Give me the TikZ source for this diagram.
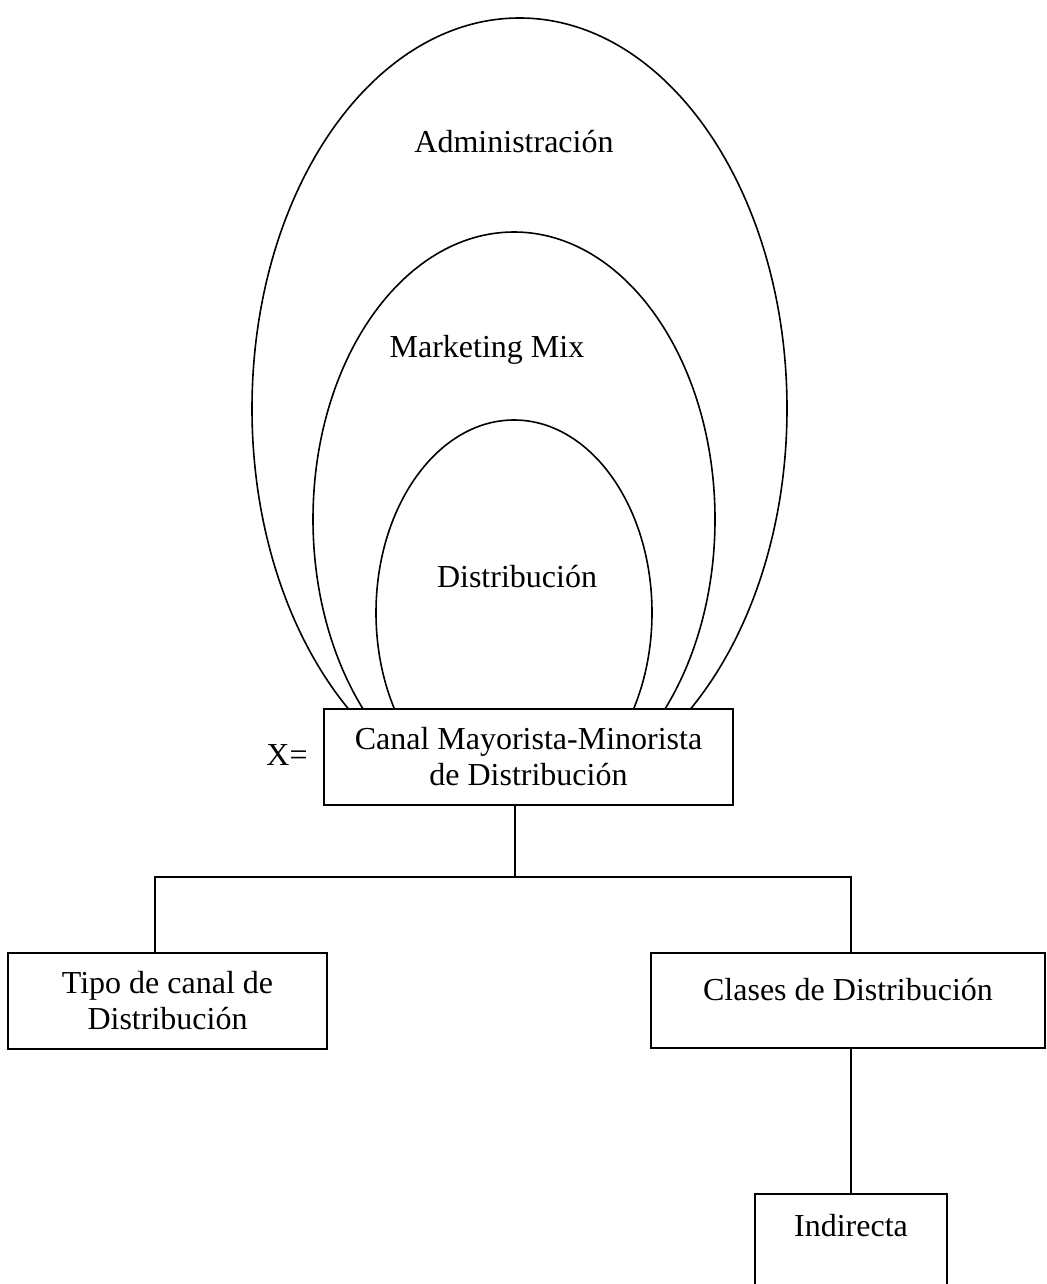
\documentclass[tikz,border=0pt]{standalone}
\usepackage{fontspec}
\setmainfont{Liberation Serif}
\begin{document}
\begin{tikzpicture}[x=1pt,y=-1pt,
  lw/.style={line width=1.6pt},
  box/.style={draw,lw,rectangle,align=center,inner sep=0pt},
  lbl/.style={inner sep=0pt,align=center},
  every node/.append style={font=\fontsize{32}{36}\selectfont}]
\useasboundingbox (0,0) rectangle (1046,1284);

% nested ellipses, cut off at the top edge of the central box
\begin{scope}
  \clip (0,0) rectangle (1046,709);
  \draw[lw] (519.5,408.6) ellipse [x radius=267.5, y radius=390.6];
  \draw[lw] (514,519.3) ellipse [x radius=201, y radius=287.3];
  \draw[lw] (514,612.7) ellipse [x radius=138, y radius=192.7];
\end{scope}

\node[lbl] (adm) at (514,142) {Administración};
\node[lbl] (mkt) at (487,350) {Marketing Mix};
\node[lbl] (dist) at (517,577) {Distribución};

% boxes
\node[box, minimum width=409pt, minimum height=96pt] (canal) at (528.5,757)
  {Canal Mayorista-Minorista\\de Distribución};
\node[lbl] (xeq) at (287,755) {X=};
\node[box, minimum width=319pt, minimum height=96pt] (tipo) at (167.5,1001)
  {Tipo de canal de\\Distribución};
\node[box, minimum width=394pt, minimum height=95pt,
      text height=23pt, text depth=24pt] (clases) at (848,1000.5)
  {Clases de Distribución};
\node[box, anchor=north, minimum width=192pt, minimum height=130pt] (ind) at (851,1193) {};
\node[lbl] (indt) at (851,1226) {Indirecta};

% tree connectors
\coordinate (jc) at (515,877);
\coordinate (jl) at (155,877);
\coordinate (jr) at (851,877);
\draw[lw] (canal.south -| jc) -- (jc);
\draw[lw] (jl |- tipo.north) -- (jl) -- (jr) -- (jr |- clases.north);
\draw[lw] (clases.south -| ind.north) -- (ind.north);
\end{tikzpicture}
\end{document}
